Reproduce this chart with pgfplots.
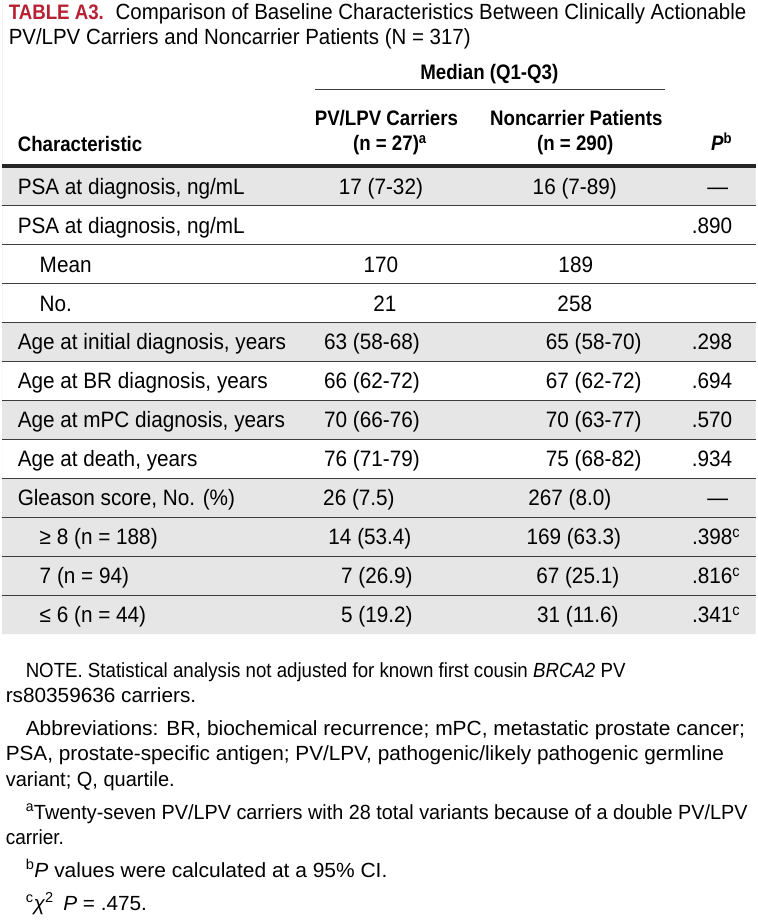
\documentclass[border=0pt]{standalone}
\usepackage{fontspec}
\setmainfont{Liberation Sans}[FakeStretch=0.93]
\newfontfamily\hdfamily{Liberation Sans}[FakeStretch=0.89]
\usepackage{graphicx}
\usepackage{pgfplots}
\pgfplotsset{compat=1.18}
\definecolor{tred}{RGB}{184,33,52}
\definecolor{txt}{RGB}{40,40,40}
\definecolor{band}{RGB}{230,230,230}
\definecolor{rulec}{RGB}{60,60,60}
\newcommand{\bodyf}{\fontsize{22.3}{26}\selectfont}
\newcommand{\headf}{\hdfamily\fontsize{21}{24}\selectfont\bfseries}
\newcommand{\footf}{\fontsize{20.5}{24}\selectfont}
\newcommand{\ttlf}{\fontsize{22}{26}\selectfont}
\begin{document}
\begin{tikzpicture}
\begin{axis}[
  width=754pt, height=923pt, scale only axis,
  xmin=0, xmax=754, ymin=0, ymax=923, y dir=reverse,
  hide axis, clip=false,
  every node/.append style={inner sep=0pt, outer sep=0pt, text=txt},
]
% page
\addplot[draw=none, fill=white] coordinates {(0,0) (754,0) (754,923) (0,923)} \closedcycle;
% grey bands
\addplot[draw=none, fill=band] coordinates {(0,165) (754,165) (754,205) (0,205)} \closedcycle;
\addplot[draw=none, fill=band] coordinates {(0,322) (754,322) (754,361) (0,361)} \closedcycle;
\addplot[draw=none, fill=band] coordinates {(0,400) (754,400) (754,439) (0,439)} \closedcycle;
\addplot[draw=none, fill=band] coordinates {(0,478) (754,478) (754,634) (0,634)} \closedcycle;
% rules
\addplot[rulec, line width=1.4pt] coordinates {(313,89) (663,89)};
\addplot[black!85, line width=4.5pt] coordinates {(0,165.5) (754,165.5)};
\addplot[rulec, line width=1.3pt] coordinates {(0,205) (754,205)};
\addplot[rulec, line width=1.3pt] coordinates {(0,244) (754,244)};
\addplot[rulec, line width=1.3pt] coordinates {(0,283) (754,283)};
\addplot[rulec, line width=1.3pt] coordinates {(0,322) (754,322)};
\addplot[rulec, line width=1.3pt] coordinates {(0,361) (754,361)};
\addplot[rulec, line width=1.3pt] coordinates {(0,400) (754,400)};
\addplot[rulec, line width=1.3pt] coordinates {(0,439) (754,439)};
\addplot[rulec, line width=1.3pt] coordinates {(0,478) (754,478)};
\addplot[rulec, line width=1.3pt] coordinates {(0,517) (754,517)};
\addplot[rulec, line width=1.3pt] coordinates {(0,556) (754,556)};
\addplot[rulec, line width=1.3pt] coordinates {(0,595) (754,595)};
% title
\node[anchor=base west, text=tred, font=\hdfamily\fontsize{21}{24}\selectfont\bfseries] at (axis cs:3,18.5) {TABLE A3.};
\node[anchor=base west, font=\ttlf] at (axis cs:110,18.5) {Comparison of Baseline Characteristics Between Clinically Actionable};
\node[anchor=base west, font=\ttlf] at (axis cs:3,44) {PV/LPV Carriers and Noncarrier Patients (N = 317)};
% header
\node[anchor=base, font=\headf] at (axis cs:487.5,78.5) {Median (Q1-Q3)};
\node[anchor=base, font=\headf] at (axis cs:384.5,125) {PV/LPV Carriers};
\node[anchor=base, font=\headf] at (axis cs:388,150) {(n = 27)\textsuperscript{a}};
\node[anchor=base, font=\headf] at (axis cs:574.5,125) {Noncarrier Patients};
\node[anchor=base, font=\headf] at (axis cs:573.5,150) {(n = 290)};
\node[anchor=base west, font=\headf] at (axis cs:12,151) {Characteristic};
\node[anchor=base west, font=\headf] at (axis cs:706,150) {\textit{P}\textsuperscript{b}};
% column 1
\node[anchor=base west, font=\bodyf] at (axis cs:12,193.5) {PSA at diagnosis, ng/mL};
\node[anchor=base west, font=\bodyf] at (axis cs:12,232.5) {PSA at diagnosis, ng/mL};
\node[anchor=base west, font=\bodyf] at (axis cs:34,271.5) {Mean};
\node[anchor=base west, font=\bodyf] at (axis cs:34,310.5) {No.};
\node[anchor=base west, font=\bodyf] at (axis cs:12,349.5) {Age at initial diagnosis, years};
\node[anchor=base west, font=\bodyf] at (axis cs:12,388.5) {Age at BR diagnosis, years};
\node[anchor=base west, font=\bodyf] at (axis cs:12,427.5) {Age at mPC diagnosis, years};
\node[anchor=base west, font=\bodyf] at (axis cs:12,466.5) {Age at death, years};
\node[anchor=base west, font=\bodyf] at (axis cs:12,505.5) {Gleason score, No. (\%)};
\node[anchor=base west, font=\bodyf] at (axis cs:34,544.5) {≥ 8 (n = 188)};
\node[anchor=base west, font=\bodyf] at (axis cs:34,583.5) {7 (n = 94)};
\node[anchor=base west, font=\bodyf] at (axis cs:34,622.5) {≤ 6 (n = 44)};
% column 2 (PV/LPV carriers)
\node[anchor=base, font=\bodyf] at (axis cs:379,193.5) {17 (7-32)};
\node[anchor=base, font=\bodyf] at (axis cs:379,271.5) {170};
\node[anchor=base, font=\bodyf] at (axis cs:383,310.5) {21};
\node[anchor=base, font=\bodyf] at (axis cs:370,349.5) {63 (58-68)};
\node[anchor=base, font=\bodyf] at (axis cs:370,388.5) {66 (62-72)};
\node[anchor=base, font=\bodyf] at (axis cs:370,427.5) {70 (66-76)};
\node[anchor=base, font=\bodyf] at (axis cs:370,466.5) {76 (71-79)};
\node[anchor=base, font=\bodyf] at (axis cs:357,505.5) {26 (7.5)};
\node[anchor=base, font=\bodyf] at (axis cs:368,544.5) {14 (53.4)};
\node[anchor=base, font=\bodyf] at (axis cs:375,583.5) {7 (26.9)};
\node[anchor=base, font=\bodyf] at (axis cs:375,622.5) {5 (19.2)};
% column 3 (noncarriers)
\node[anchor=base, font=\bodyf] at (axis cs:573,193.5) {16 (7-89)};
\node[anchor=base, font=\bodyf] at (axis cs:574,271.5) {189};
\node[anchor=base, font=\bodyf] at (axis cs:573,310.5) {258};
\node[anchor=base, font=\bodyf] at (axis cs:592,349.5) {65 (58-70)};
\node[anchor=base, font=\bodyf] at (axis cs:592,388.5) {67 (62-72)};
\node[anchor=base, font=\bodyf] at (axis cs:592,427.5) {70 (63-77)};
\node[anchor=base, font=\bodyf] at (axis cs:592,466.5) {75 (68-82)};
\node[anchor=base, font=\bodyf] at (axis cs:568,505.5) {267 (8.0)};
\node[anchor=base, font=\bodyf] at (axis cs:572,544.5) {169 (63.3)};
\node[anchor=base, font=\bodyf] at (axis cs:576,583.5) {67 (25.1)};
\node[anchor=base, font=\bodyf] at (axis cs:576,622.5) {31 (11.6)};
% column 4 (P)
\node[anchor=base, font=\bodyf] at (axis cs:716,193.5) {\textemdash};
\node[anchor=base east, font=\bodyf] at (axis cs:734,232.5) {.890};
\node[anchor=base east, font=\bodyf] at (axis cs:734,349.5) {.298};
\node[anchor=base east, font=\bodyf] at (axis cs:734,388.5) {.694};
\node[anchor=base east, font=\bodyf] at (axis cs:734,427.5) {.570};
\node[anchor=base east, font=\bodyf] at (axis cs:734,466.5) {.934};
\node[anchor=base, font=\bodyf] at (axis cs:716,505.5) {\textemdash};
\node[anchor=base east, font=\bodyf] at (axis cs:742,544.5) {.398\textsuperscript{c}};
\node[anchor=base east, font=\bodyf] at (axis cs:742,583.5) {.816\textsuperscript{c}};
\node[anchor=base east, font=\bodyf] at (axis cs:742,622.5) {.341\textsuperscript{c}};
% footnotes
\node[anchor=base west, font=\footf] at (axis cs:20,677) {\scalebox{0.98}[1]{NOTE. Statistical analysis not adjusted for known first cousin \textit{BRCA2} PV}};
\node[anchor=base west, font=\footf] at (axis cs:0,702.5) {\scalebox{1.09}[1]{rs80359636 carriers.}};
\node[anchor=base west, font=\footf] at (axis cs:20,735.3) {\scalebox{1.10}[1]{Abbreviations: BR, biochemical recurrence; mPC, metastatic prostate cancer;}};
\node[anchor=base west, font=\footf] at (axis cs:0,760.8) {\scalebox{1.09}[1]{PSA, prostate-specific antigen; PV/LPV, pathogenic/likely pathogenic germline}};
\node[anchor=base west, font=\footf] at (axis cs:0,786.3) {\scalebox{1.05}[1]{variant; Q, quartile.}};
\node[anchor=base west, font=\footf] at (axis cs:20,819) {\scalebox{1.04}[1]{\textsuperscript{a}Twenty-seven PV/LPV carriers with 28 total variants because of a double PV/LPV}};
\node[anchor=base west, font=\footf] at (axis cs:0,844.5) {carrier.};
\node[anchor=base west, font=\footf] at (axis cs:20,877.3) {\scalebox{1.10}[1]{\textsuperscript{b}\textit{P} values were calculated at a 95\% CI.}};
\node[anchor=base west, font=\footf] at (axis cs:20,910) {\scalebox{1.09}[1]{\textsuperscript{c}\textit{χ}\textsuperscript{2}\, \textit{P} = .475.}};
\end{axis}
\end{tikzpicture}
\end{document}
